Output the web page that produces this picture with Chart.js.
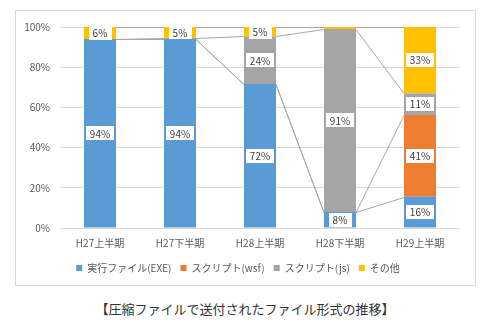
<!DOCTYPE html>
<html>
<head>
<meta charset="utf-8">
<script src="https://cdn.jsdelivr.net/npm/chart.js@4"></script>
<style>
  body { margin: 0; background: #fff; width: 490px; height: 328px; position: relative; overflow: hidden; }
  #frame { position: absolute; left: 15px; top: 10px; width: 459px; height: 274px; border: 1px solid #d9d9d9; }
  #caption { position: absolute; left: 0; top: 299px; width: 490px; text-align: center;
    font-family: "Noto Sans CJK JP", sans-serif; font-size: 13px; color: #333; }
</style>
</head>
<body>
<div id="frame"><canvas id="shareChart" width="459" height="274"></canvas></div>
<div id="caption">【圧縮ファイルで送付されたファイル形式の推移】</div>
<script>
const periods = ['H27上半期', 'H27下半期', 'H28上半期', 'H28下半期', 'H29上半期'];
const exeShare = [94, 94, 71.6, 8, 15.6];
const wsfShare = [0, 0, 0, 0, 40.6];
const jsShare = [0, 0.6, 23.7, 91, 10.8];
const otherShare = [6, 5.4, 4.7, 1, 33];
const yTicks = [0, 20, 40, 60, 80, 100];

const FONT = '"Noto Sans CJK JP", sans-serif';

// Excel-style series lines between neighbouring stacked bars
const seriesLines = {
  id: 'seriesLines',
  beforeDatasetsDraw(chart) {
    const ctx = chart.ctx;
    const y = chart.scales.y;
    const metas = chart.data.datasets.map((d, i) => chart.getDatasetMeta(i));
    ctx.save();
    ctx.strokeStyle = '#a6a6a6';
    ctx.lineWidth = 1;
    let cum = periods.map(() => 0);
    chart.data.datasets.forEach((ds, di) => {
      cum = cum.map((c, i) => c + ds.data[i]);
      for (let i = 0; i < periods.length - 1; i++) {
        const a = metas[di].data[i];
        const b = metas[di].data[i + 1];
        ctx.beginPath();
        ctx.moveTo(a.x + a.width / 2, Math.round(y.getPixelForValue(cum[i])) + 0.5);
        ctx.lineTo(b.x - b.width / 2, Math.round(y.getPixelForValue(cum[i + 1])) + 0.5);
        ctx.stroke();
      }
    });
    ctx.restore();
  }
};

// white boxed percentage labels in the middle of each segment
const segmentLabels = {
  id: 'segmentLabels',
  afterDatasetsDraw(chart) {
    const ctx = chart.ctx;
    ctx.save();
    ctx.font = '10px ' + FONT;
    ctx.textAlign = 'center';
    ctx.textBaseline = 'middle';
    chart.data.datasets.forEach((ds, di) => {
      chart.getDatasetMeta(di).data.forEach((bar, i) => {
        const v = ds.data[i];
        if (v < 3) return;
        const txt = Math.round(v) + '%';
        const cy = (bar.y + bar.base) / 2;
        const w = ctx.measureText(txt).width + 8;
        ctx.fillStyle = '#fff';
        ctx.fillRect(Math.round(bar.x - w / 2), Math.round(cy - 7), Math.round(w), 14);
        ctx.fillStyle = '#404040';
        ctx.fillText(txt, bar.x, cy + 0.5);
      });
    });
    ctx.restore();
  }
};

new Chart(document.getElementById('shareChart'), {
  type: 'bar',
  data: {
    labels: periods,
    datasets: [
      { label: '実行ファイル(EXE)', data: exeShare, backgroundColor: '#5b9bd5' },
      { label: 'スクリプト(wsf)', data: wsfShare, backgroundColor: '#ed7d31' },
      { label: 'スクリプト(js)', data: jsShare, backgroundColor: '#a5a5a5' },
      { label: 'その他', data: otherShare, backgroundColor: '#ffc000' }
    ]
  },
  options: {
    responsive: false,
    animation: false,
    categoryPercentage: 1,
    barPercentage: 0.4,
    layout: { padding: { top: 10, right: 15, left: 0, bottom: 2 } },
    scales: {
      x: {
        stacked: true,
        grid: { display: false, drawTicks: false },
        border: { display: false },
        ticks: { color: '#595959', font: { family: FONT, size: 10 }, padding: 9, maxRotation: 0 },
        afterFit(scale) { scale.height = 26; }
      },
      y: {
        stacked: true,
        min: 0,
        max: 100,
        afterBuildTicks(scale) { scale.ticks = yTicks.map(v => ({ value: v })); },
        grid: { color: '#d9d9d9', drawTicks: false },
        border: { display: false },
        ticks: {
          color: '#595959', font: { family: FONT, size: 10 }, padding: 10,
          callback: v => v + '%'
        },
        afterFit(scale) { scale.width = 44; }
      }
    },
    plugins: {
      tooltip: { enabled: false },
      legend: {
        position: 'bottom',
        labels: {
          boxWidth: 6, boxHeight: 6, padding: 9,
          color: '#595959', font: { family: FONT, size: 10 }
        }
      }
    }
  },
  plugins: [seriesLines, segmentLabels]
});
</script>
</body>
</html>
